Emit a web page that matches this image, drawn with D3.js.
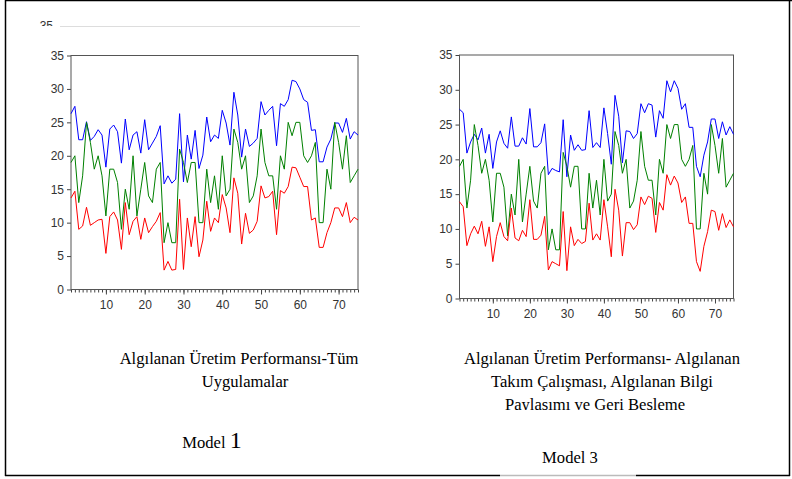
<!DOCTYPE html>
<html>
<head>
<meta charset="utf-8">
<script src="https://cdnjs.cloudflare.com/ajax/libs/d3/7.8.5/d3.min.js"></script>
<style>
  body { margin: 0; background: #fff; }
  svg { display: block; }
</style>
</head>
<body>
<div id="chart"></div>
<script>
// observation numbers 1..75
var obs = d3.range(1, 76);

// actual values (green), same in both models
var actual = [19,20,13,17,25,22,18,20,17,11,18,18,16,9,15,12,20,11,15,19,14,13,18,19,7,10,7,7,21,19,
  16,19,19,10,10,18,13,17,12,20,14,15,24,22,18,20,13,14,17,24,19,17,17,12,20,18,25,23,25,25,
  20,19,20,22,10,10,18,15,25,22,18,23,16,17,18];

// model 1 upper (blue) and lower (red)
var upper1 = [26.3,27.4,22.4,22.4,25.1,22.3,22.9,23.9,23.1,18.3,24,24.6,23.6,18.9,25.5,20.9,23.1,23.6,20.4,25.4,
  20.9,21.9,22.9,24.5,15.8,17,15.9,16.5,26.3,16.1,23.1,19.5,23.8,18.1,20.1,25.8,22.1,23.1,22.6,26.8,
  24.9,21.6,29.5,26.1,19.8,24,21.4,21.9,22.6,28.1,26.1,26.8,27.4,21.5,27.8,27.4,28.4,31.3,31.1,30,
  28.4,28,23.8,23.9,19.1,19.1,21.3,22.5,24.9,24.9,23.5,25.6,22.5,23.6,23.1];
var lower1 = [13.7,14.7,9,9.5,12.3,9.6,10,10.4,10.5,5.4,10.9,11.6,10.4,6,13,8.2,10.2,10.9,7.5,10.7,
  8.5,9.4,10.2,11.5,2.9,4.2,2.9,3,13.5,3,10.7,6.4,10.9,4.9,7.4,13.2,8.7,10.7,10,14.2,
  12.2,8.5,16.7,14.4,6.8,11.4,8.4,8.9,10.2,15.5,13.7,13.9,14.7,8.2,14.8,14.4,15.4,18.3,18.2,16.8,
  15.4,15.4,10.4,10.7,6.3,6.3,8.5,10,12.2,12.2,10.9,13,10,10.8,10.4];

// model 3 upper (blue) and lower (red)
var upper3 = [27.2,26.7,20.9,22.5,23.6,22.8,24.5,20.9,23.6,18.7,22.5,24.1,22.3,21.6,26.1,21.9,21.9,23.1,22.2,27.3,
  21.8,21.8,22.4,25.1,17.8,18.7,18.4,18.2,25.7,17.5,23.5,21.3,22.1,21.3,21.4,27,21.7,22.4,21.7,27.4,
  23.7,19.3,29.2,26.2,19.5,24.1,24,23,23.7,28,26.7,28,27.8,23.2,27,25.9,31.3,29.7,31.3,30.2,
  27.2,28,24.6,24.6,19,17.5,20.6,22.5,25.8,25.8,23,25.4,23.5,24.7,23.6];
var lower3 = [13.9,13.2,7.6,9.3,10.4,9.3,11.1,7.5,10.3,5.3,8.9,10.9,8.9,8.3,13,8.7,8.3,9.8,8.9,14.2,
  8.5,8.5,9.1,11.8,4.1,5.3,5,4.7,12.5,4,10.3,7.6,8.5,7.9,8.2,13.7,8.4,9.3,8.4,14.2,
  10.3,6,15.7,12.7,6.1,10.9,10.9,9.9,10.6,14.6,13.5,14.7,14.4,9.5,13.8,12.7,17.8,16.3,17.6,16.6,
  13.8,14.6,10.8,10.8,5.3,3.9,7.5,9.6,12.7,12.5,9.8,12.2,10.2,11.3,10.3];

var yTicks = [0, 5, 10, 15, 20, 25, 30, 35];
var xTicks = [10, 20, 30, 40, 50, 60, 70];

var svg = d3.select("#chart").append("svg")
    .attr("width", 792)
    .attr("height", 479);

svg.append("rect").attr("width", 792).attr("height", 479).attr("fill", "#fff");

// page frame
svg.append("line").attr("x1", 5.5).attr("y1", 0).attr("x2", 5.5).attr("y2", 476).style("stroke", "#000").style("stroke-width", 1.5);
svg.append("line").attr("x1", 5).attr("y1", 0.5).attr("x2", 792).attr("y2", 0.5).style("stroke", "#000").style("stroke-width", 1.5);
svg.append("line").attr("x1", 789.5).attr("y1", 0).attr("x2", 789.5).attr("y2", 476).style("stroke", "#000").style("stroke-width", 1.5);
svg.append("line").attr("x1", 5).attr("y1", 475.5).attr("x2", 500).attr("y2", 475.5).style("stroke", "#000").style("stroke-width", 1.5);
svg.append("line").attr("x1", 500).attr("y1", 475.5).attr("x2", 636).attr("y2", 475.5).style("stroke", "#bbb").style("stroke-width", 1.5);
svg.append("line").attr("x1", 636).attr("y1", 475.5).attr("x2", 790).attr("y2", 475.5).style("stroke", "#000").style("stroke-width", 1.5);

// stray clipped label at top
svg.append("clipPath").attr("id", "topclip")
    .append("rect").attr("x", 30).attr("y", 0).attr("width", 40).attr("height", 26);
svg.append("text")
    .attr("x", 53).attr("y", 30)
    .attr("text-anchor", "end")
    .attr("clip-path", "url(#topclip)")
    .style("font-family", "Liberation Sans, Arial, sans-serif")
    .style("font-size", "12px")
    .style("fill", "#333")
    .text("35");
svg.append("line").attr("x1", 60).attr("y1", 26.5).attr("x2", 360).attr("y2", 26.5).style("stroke", "#ddd");

function drawPanel(left, top, right, bottom, hi, lo) {
    var x = d3.scaleLinear().domain([1, 75]).range([left, right]);
    var y = d3.scaleLinear().domain([0, 35]).range([bottom, top]);
    var g = svg.append("g");

    // minor x ticks every observation
    g.append("g")
        .attr("transform", "translate(0," + bottom + ")")
        .call(d3.axisBottom(x).tickValues(obs).tickSize(3).tickFormat(""))
        .call(function (a) { a.select(".domain").remove(); a.selectAll("line").style("stroke", "#444"); });

    var xa = g.append("g")
        .attr("transform", "translate(0," + bottom + ")")
        .call(d3.axisBottom(x).tickValues(xTicks).tickSize(5).tickPadding(6));
    xa.select(".domain").remove();
    xa.selectAll("line").style("stroke", "#444");
    xa.selectAll("text")
        .style("font-family", "Liberation Sans, Arial, sans-serif")
        .style("font-size", "12px")
        .style("fill", "#333");

    var ya = g.append("g")
        .attr("transform", "translate(" + left + ",0)")
        .call(d3.axisLeft(y).tickValues(yTicks).tickSize(4).tickPadding(3));
    ya.select(".domain").remove();
    ya.selectAll("line").style("stroke", "#444");
    ya.selectAll("text")
        .style("font-family", "Liberation Sans, Arial, sans-serif")
        .style("font-size", "12px")
        .style("fill", "#333");

    // plot frame
    g.append("rect")
        .attr("x", left).attr("y", top)
        .attr("width", right - left).attr("height", bottom - top)
        .attr("fill", "none")
        .style("stroke", "#555");

    var line = d3.line()
        .x(function (d, i) { return x(obs[i]); })
        .y(function (d) { return y(d); });

    [[hi, "#0000ff"], [actual, "#008000"], [lo, "#ff0000"]].forEach(function (s) {
        g.append("path")
            .datum(s[0])
            .attr("d", line)
            .attr("fill", "none")
            .style("stroke", s[1])
            .style("stroke-width", 1);
    });
}

drawPanel(71, 55.5, 358, 289.5, upper1, lower1);
drawPanel(459.5, 55, 733.5, 298.5, upper3, lower3);

// captions
function caption(cx, cy, txt, size) {
    svg.append("text")
        .attr("x", cx).attr("y", cy)
        .attr("text-anchor", "middle")
        .style("font-family", "Liberation Serif, Times New Roman, serif")
        .style("font-size", size + "px")
        .style("fill", "#000")
        .text(txt);
}
caption(239, 364, "Algılanan Üretim Performansı-Tüm", 16.6);
caption(245, 387, "Uygulamalar", 16.6);

var m1 = svg.append("text")
    .attr("x", 212).attr("y", 448)
    .attr("text-anchor", "middle")
    .style("font-family", "Liberation Serif, Times New Roman, serif")
    .style("fill", "#000");
m1.append("tspan").style("font-size", "16.6px").text("Model ");
m1.append("tspan").style("font-size", "24px").text("1");

caption(602, 364, "Algılanan Üretim Performansı- Algılanan", 16.6);
caption(602, 387, "Takım Çalışması, Algılanan Bilgi", 16.6);

svg.append("clipPath").attr("id", "capclip")
    .append("rect").attr("x", 420).attr("y", 395).attr("width", 360).attr("height", 15);
svg.append("text")
    .attr("x", 595).attr("y", 410)
    .attr("text-anchor", "middle")
    .attr("clip-path", "url(#capclip)")
    .style("font-family", "Liberation Serif, Times New Roman, serif")
    .style("font-size", "16.6px")
    .style("fill", "#000")
    .text("Paylaşımı ve Geri Besleme");

caption(570, 463, "Model 3", 16.6);
</script>
</body>
</html>
